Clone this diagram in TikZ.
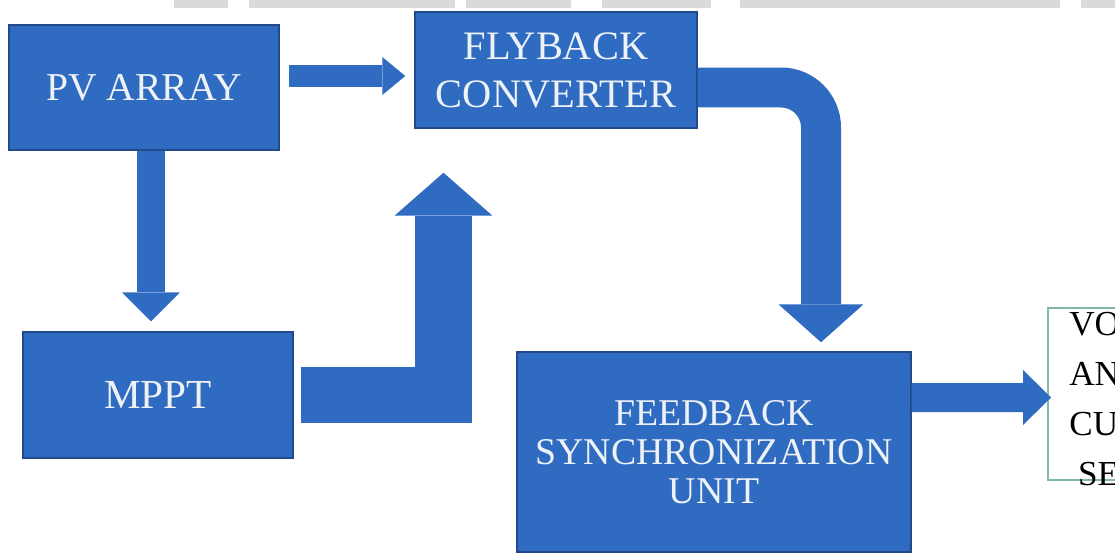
\documentclass[tikz,border=0pt]{standalone}
\usepackage{fontspec}
\setmainfont{Liberation Serif}
\usetikzlibrary{arrows.meta, calc}

\definecolor{blockblue}{RGB}{46,107,193}
\definecolor{blockedge}{RGB}{32,74,140}
\definecolor{blocktext}{RGB}{238,242,246}
\definecolor{sensoredge}{RGB}{128,186,166}
\definecolor{scanstrip}{RGB}{218,218,218}

\begin{document}
\begin{tikzpicture}[
    x=0.02cm, y=-0.02cm,
    block/.style={draw=blockedge, line width=0.03cm, fill=blockblue,
        text=blocktext, align=center, inner sep=0pt},
    fatarrow/.style={draw=blockblue, line join=miter}
]

% --- Page frame ---
\useasboundingbox (0,0) rectangle (1115,554);
\clip (0,0) rectangle (1115,554);

% --- Grey strip along the top edge ---
\foreach \a/\b in {174/228, 249/455, 466/571, 602/711, 740/1060, 1081/1115}
    \fill[scanstrip] (\a,0) rectangle (\b,8);

% --- Blocks ---
\node[block, minimum width=5.4cm, minimum height=2.5cm,
      font=\fontsize{22.5}{27}\selectfont] (pv) at (144,87.5) {PV ARRAY};
\node[block, minimum width=5.64cm, minimum height=2.32cm,
      font=\fontsize{23}{27.3}\selectfont] (fb) at (556,70) {FLYBACK\\CONVERTER};
\node[block, minimum width=5.4cm, minimum height=2.52cm,
      font=\fontsize{23.5}{27}\selectfont] (mppt) at (158,395) {MPPT};
\node[block, minimum width=7.88cm, minimum height=4cm,
      font=\fontsize{21.5}{22.2}\selectfont] (fsu) at (714,452)
      {FEEDBACK\\SYNCHRONIZATION\\UNIT};

% --- Sensor box (runs off the right edge) ---
\node[draw=sensoredge, line width=0.04cm, minimum width=4cm, minimum height=3.44cm,
      inner sep=0pt] (sensor) at (1148,394) {};
\node[anchor=north west, inner sep=0pt, align=left,
      font=\fontsize{20}{28.5}\selectfont] (sensortxt) at (1069,312)
      {VOLTAGE\\AND\\CURRENT\\\hspace*{0.25em}SENSOR};

% --- Block arrows ---
\draw[fatarrow, line width=0.44cm,
      -{Triangle[length=0.46cm, width=0.76cm, line width=0pt]}]
    ($(pv.east)+(9,-11.5)$) -- ($(fb.west)+(-9,6)$);
\draw[fatarrow, line width=0.8cm, rounded corners=0.8cm,
      -{Triangle[length=0.76cm, width=1.7cm, line width=0pt]}]
    ($(fb.east)+(0,17.5)$) -| ($(fsu.north)+(107,-9)$);
\draw[fatarrow, line width=0.56cm,
      -{Triangle[length=0.58cm, width=1.16cm, line width=0pt]}]
    ($(pv.south)+(7,0)$) -- ($(mppt.north)+(-7,-10)$);
\draw[fatarrow, line width=1.14cm,
      -{Triangle[length=0.86cm, width=1.96cm, line width=0pt]}]
    ($(mppt.east)+(7,0)$) -| ($(fb.south)+(-112.5,44)$);
\draw[fatarrow, line width=0.58cm,
      -{Triangle[length=0.56cm, width=1.1cm, line width=0pt]}]
    ($(fsu.east)+(0,-54.5)$) -- ($(sensor.west)+(4,3.5)$);

\end{tikzpicture}
\end{document}
